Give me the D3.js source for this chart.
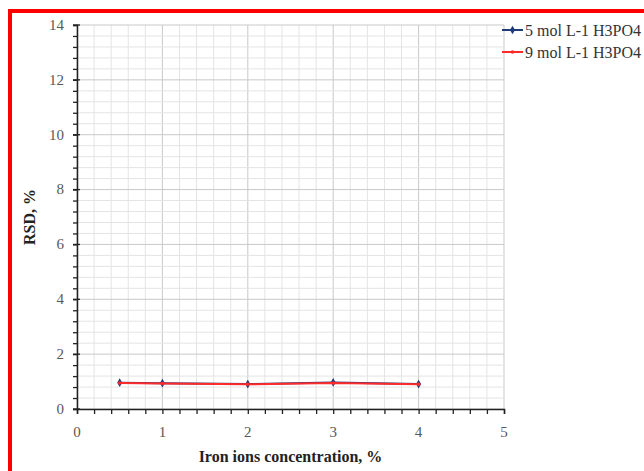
<!DOCTYPE html>
<html>
<head>
	<meta charset='utf-8' />
	<script src="https://d3js.org/d3.v7.min.js"></script>
	<style>
		body { margin: 0; background: white; }
		svg { display: block; font-family: "Liberation Serif", "DejaVu Serif", serif; }
	</style>
</head>
<body>
	<svg id="chart" width="644" height="471"></svg>
	<script>
		var concentration = [0.5, 1, 2, 3, 4];
		var rsd5 = [0.96, 0.94, 0.91, 0.97, 0.91];
		var rsd9 = [0.95, 0.93, 0.90, 0.95, 0.90];
		var seriesNames = ["5 mol L-1 H3PO4", "9 mol L-1 H3PO4"];
		var xTicks = [0, 1, 2, 3, 4, 5];
		var yTicks = [0, 2, 4, 6, 8, 10, 12, 14];

		var svg = d3.select("#chart"),
			margin = { top: 25, left: 77, bottom: 62, right: 140 },
			width = +svg.attr("width"),
			height = +svg.attr("height");

		var x = d3.scaleLinear().domain([0, 5]).range([margin.left, width - margin.right]);
		var y = d3.scaleLinear().domain([0, 14]).range([height - margin.bottom, margin.top]);

		// frame (cropped on the right and bottom)
		svg.append("path")
			.attr("d", "M10,471 L10,11 L644,11")
			.attr("fill", "none")
			.attr("stroke", "#ff0000")
			.attr("stroke-width", 4);

		// grid
		var xMinor = d3.range(0, 5.001, 0.2).map(d => +d.toFixed(2));
		var yMinor = d3.range(0, 14.001, 0.4).map(d => +d.toFixed(2));

		svg.append("g").selectAll("line")
			.data(xMinor)
			.enter().append("line")
			.attr("x1", d => x(d)).attr("x2", d => x(d))
			.attr("y1", y(0)).attr("y2", y(14))
			.attr("stroke", d => Number.isInteger(d) ? "#c9c9c9" : "#e4e4e4")
			.attr("stroke-width", 1);

		svg.append("g").selectAll("line")
			.data(yMinor)
			.enter().append("line")
			.attr("x1", x(0)).attr("x2", x(5))
			.attr("y1", d => y(d)).attr("y2", d => y(d))
			.attr("stroke", d => (Math.abs(d % 2) < 0.01) ? "#c9c9c9" : "#e4e4e4")
			.attr("stroke-width", 1);

		// axes
		var xAxis = svg.append("g")
			.attr("transform", `translate(0,${y(0)})`)
			.call(d3.axisBottom(x).tickValues(xMinor).tickSize(5).tickFormat(""));
		xAxis.select(".domain").attr("stroke", "#222").attr("stroke-width", 1.5);
		xAxis.selectAll(".tick line").attr("stroke", "#222").attr("stroke-width", 1.3);

		svg.append("g").selectAll("text")
			.data(xTicks)
			.enter().append("text")
			.attr("x", d => x(d))
			.attr("y", y(0) + 28)
			.attr("text-anchor", "middle")
			.attr("font-size", 15)
			.attr("fill", "#595959")
			.text(d => d);

		var yAxis = svg.append("g")
			.attr("transform", `translate(${x(0)},0)`)
			.call(d3.axisLeft(y).tickValues(yMinor).tickSize(4).tickFormat(""));
		yAxis.select(".domain").attr("stroke", "#222").attr("stroke-width", 1.5);
		yAxis.selectAll(".tick line").attr("stroke", "#222").attr("stroke-width", 1.3);

		svg.append("g").selectAll("line")
			.data(yTicks)
			.enter().append("line")
			.attr("x1", x(0) - 4).attr("x2", x(0) + 3)
			.attr("y1", d => y(d)).attr("y2", d => y(d))
			.attr("stroke", "#222").attr("stroke-width", 1.3);

		svg.append("g").selectAll("text")
			.data(yTicks)
			.enter().append("text")
			.attr("x", x(0) - 13)
			.attr("y", d => y(d))
			.attr("dy", "0.32em")
			.attr("text-anchor", "end")
			.attr("font-size", 15)
			.attr("fill", "#595959")
			.text(d => d);

		// axis titles
		svg.append("text")
			.attr("x", (x(0) + x(5)) / 2)
			.attr("y", 462)
			.attr("text-anchor", "middle")
			.attr("font-size", 16)
			.attr("font-weight", "bold")
			.attr("fill", "#222")
			.text("Iron ions concentration, %");

		svg.append("text")
			.attr("transform", `translate(35,${(y(0) + y(14)) / 2}) rotate(-90)`)
			.attr("text-anchor", "middle")
			.attr("font-size", 16)
			.attr("font-weight", "bold")
			.attr("fill", "#222")
			.text("RSD, %");

		// series
		var series = [
			{ name: seriesNames[0], values: rsd5, color: "#1f3a78", marker: d3.symbolDiamond, size: 22 },
			{ name: seriesNames[1], values: rsd9, color: "#ff2a2a", marker: d3.symbolCircle, size: 10 }
		];

		var line = d3.line()
			.x((d, i) => x(concentration[i]))
			.y(d => y(d));

		series.forEach(function (s) {
			svg.append("path")
				.datum(s.values)
				.attr("fill", "none")
				.attr("stroke", s.color)
				.attr("stroke-width", 2)
				.attr("d", line);

			svg.append("g").selectAll("path")
				.data(s.values)
				.enter().append("path")
				.attr("transform", (d, i) => `translate(${x(concentration[i])},${y(d)})`)
				.attr("d", d3.symbol().type(s.marker).size(s.size))
				.attr("fill", s.color);
		});

		// legend
		var legend = svg.append("g")
			.selectAll("g")
			.data(series)
			.enter().append("g")
			.attr("transform", (d, i) => `translate(502,${30 + i * 22})`);

		legend.append("line")
			.attr("x1", 0).attr("x2", 21)
			.attr("stroke", d => d.color)
			.attr("stroke-width", 2);

		legend.append("path")
			.attr("transform", "translate(10.5,0)")
			.attr("d", d => d3.symbol().type(d.marker).size(d.size)())
			.attr("fill", d => d.color);

		legend.append("text")
			.attr("x", 23)
			.attr("dy", "0.35em")
			.attr("font-size", 16)
			.attr("fill", "#333")
			.text(d => d.name);
	</script>
</body>
</html>
